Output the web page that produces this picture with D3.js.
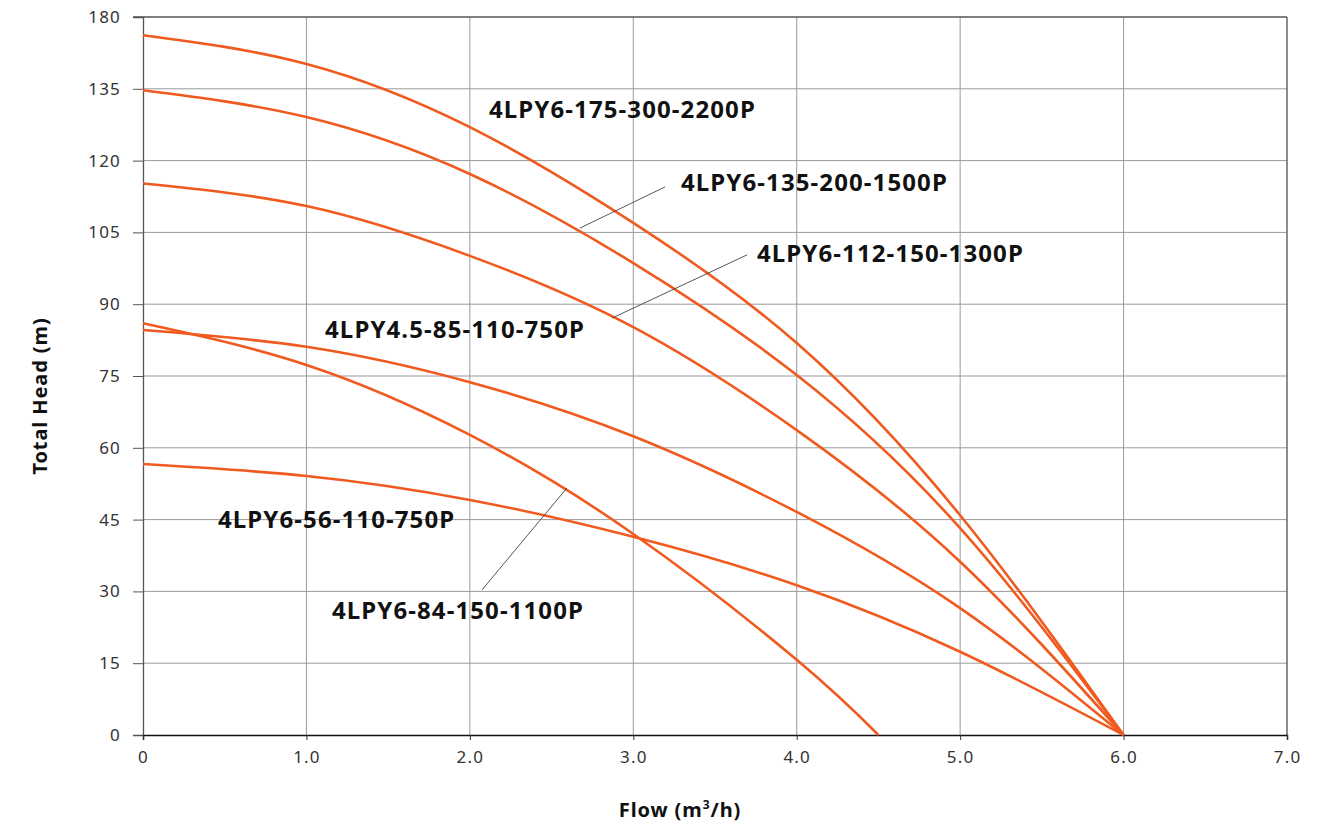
<!doctype html>
<html lang="en">
<head>
  <meta charset="utf-8">
  <script src="https://d3js.org/d3.v7.min.js"></script>
  <style>
    body { margin: 0; background: #fff; }
    .tick text { font-family: "Noto Sans", sans-serif; font-size: 17px; letter-spacing: 1.2px; fill: #333; }
    .label { font-family: "Noto Sans", sans-serif; font-weight: 700; font-size: 24px; letter-spacing: 1.1px; fill: #111; }
    .title { font-family: "Noto Sans", sans-serif; font-weight: 700; font-size: 20px; letter-spacing: 0.9px; fill: #111; }
  </style>
</head>
<body>
  <div id="chart"></div>
  <script>
    var flow = [0, 1, 2, 3, 4, 5, 6];
    var flow84 = [0, 1, 2, 3, 4, 4.5];

    var head175 = [146.2, 140.2, 127.0, 107.0, 81.9, 45.9, 0];
    var head135 = [134.7, 129.1, 117.2, 98.6, 75.2, 43.2, 0];
    var head112 = [115.2, 110.5, 100.1, 85.2, 63.7, 36.2, 0];
    var head85 = [84.6, 81.1, 73.7, 62.4, 46.6, 26.5, 0];
    var head56 = [56.6, 54.1, 49.1, 41.4, 31.3, 17.4, 0];
    var head84 = [86.0, 77.3, 62.7, 42.0, 15.7, 0];

    var names = ["4LPY6-175-300-2200P", "4LPY6-135-200-1500P", "4LPY6-112-150-1300P",
                 "4LPY4.5-85-110-750P", "4LPY6-56-110-750P", "4LPY6-84-150-1100P"];

    var xTicks = [0, 1, 2, 3, 4, 5, 6, 7];
    var xTickLabels = ["0", "1.0", "2.0", "3.0", "4.0", "5.0", "6.0", "7.0"];
    var yTicks = [0, 15, 30, 45, 60, 75, 90, 105, 120, 135, 150];
    var yTickLabels = ["0", "15", "30", "45", "60", "75", "90", "105", "120", "135", "180"];

    var series = [
      {name: names[0], x: flow, y: head175},
      {name: names[1], x: flow, y: head135},
      {name: names[2], x: flow, y: head112},
      {name: names[3], x: flow, y: head85},
      {name: names[4], x: flow, y: head56},
      {name: names[5], x: flow84, y: head84}
    ];

    var margin = {top: 17, right: 45, bottom: 92, left: 143},
        width = 1332 - margin.left - margin.right,
        height = 827 - margin.top - margin.bottom;

    var svg = d3.select("#chart").append("svg")
        .attr("width", 1332).attr("height", 827);
    var g = svg.append("g")
        .attr("transform", "translate(" + margin.left + "," + margin.top + ")");

    var x = d3.scaleLinear().domain([0, 7]).range([0, width]);
    var y = d3.scaleLinear().domain([0, 150]).range([height, 0]);

    // grid
    g.append("g").selectAll("line").data(xTicks.slice(1, -1)).enter().append("line")
        .attr("x1", function(d) { return x(d); }).attr("x2", function(d) { return x(d); })
        .attr("y1", 0).attr("y2", height)
        .attr("stroke", "#9a9a9a").attr("stroke-width", 1);
    g.append("g").selectAll("line").data(yTicks.slice(1, -1)).enter().append("line")
        .attr("x1", 0).attr("x2", width)
        .attr("y1", function(d) { return y(d); }).attr("y2", function(d) { return y(d); })
        .attr("stroke", "#9a9a9a").attr("stroke-width", 1);

    // top and right frame
    g.append("line").attr("x1", -10).attr("x2", width).attr("y1", 0).attr("y2", 0)
        .attr("stroke", "#555").attr("stroke-width", 1.3);
    g.append("line").attr("x1", width).attr("x2", width).attr("y1", 0).attr("y2", height)
        .attr("stroke", "#666").attr("stroke-width", 1.5);

    // axes
    var yAxis = d3.axisLeft(y).tickValues(yTicks).tickSize(10).tickPadding(12)
        .tickFormat(function(d, i) { return yTickLabels[i]; });
    var yg = g.append("g").call(yAxis);
    yg.select(".domain").attr("stroke", "#555").attr("stroke-width", 1.3);
    yg.selectAll(".tick line").attr("stroke", "#555");

    var xAxis = d3.axisBottom(x).tickValues(xTicks).tickSize(5).tickPadding(11)
        .tickFormat(function(d, i) { return xTickLabels[i]; });
    var xg = g.append("g").attr("transform", "translate(0," + height + ")").call(xAxis);
    xg.select(".domain").attr("stroke", "#111").attr("stroke-width", 1.5);
    xg.selectAll(".tick line").attr("stroke", "#333");

    // curves
    var line = d3.line()
        .x(function(d) { return x(d[0]); })
        .y(function(d) { return y(d[1]); })
        .curve(d3.curveNatural);

    g.append("g").selectAll("path").data(series).enter().append("path")
        .attr("d", function(s) { return line(d3.zip(s.x, s.y)); })
        .attr("fill", "none")
        .attr("stroke", "#f05a1e")
        .attr("stroke-width", 2.6);

    // curve labels, placed in data units
    var notes = [
      {i: 0, at: [2.117, 128.9]},
      {i: 1, at: [3.292, 113.6], from: [2.674, 105.9], to: [3.194, 114.5]},
      {i: 2, at: [3.757, 98.8], from: [2.870, 87.1], to: [3.696, 100.3]},
      {i: 3, at: [1.114, 82.9]},
      {i: 4, at: [0.459, 43.2]},
      {i: 5, at: [1.156, 24.2], from: [2.074, 30.3], to: [2.594, 51.6]}
    ];

    notes.forEach(function(n) {
      if (n.from) {
        g.append("line")
          .attr("x1", x(n.from[0])).attr("y1", y(n.from[1]))
          .attr("x2", x(n.to[0])).attr("y2", y(n.to[1]))
          .attr("stroke", "#444").attr("stroke-width", 0.9);
      }
      g.append("text").attr("class", "label")
        .attr("x", x(n.at[0])).attr("y", y(n.at[1]))
        .text(names[n.i]);
    });

    // axis titles
    svg.append("text").attr("class", "title")
        .attr("transform", "translate(47,396) rotate(-90)")
        .attr("text-anchor", "middle")
        .text("Total Head (m)");
    var ft = svg.append("text").attr("class", "title")
        .attr("x", 680).attr("y", 817).attr("text-anchor", "middle");
    ft.append("tspan").text("Flow (m");
    ft.append("tspan").attr("font-size", "12px").attr("dy", -8).text("3");
    ft.append("tspan").attr("dy", 8).text("/h)");
  </script>
</body>
</html>
